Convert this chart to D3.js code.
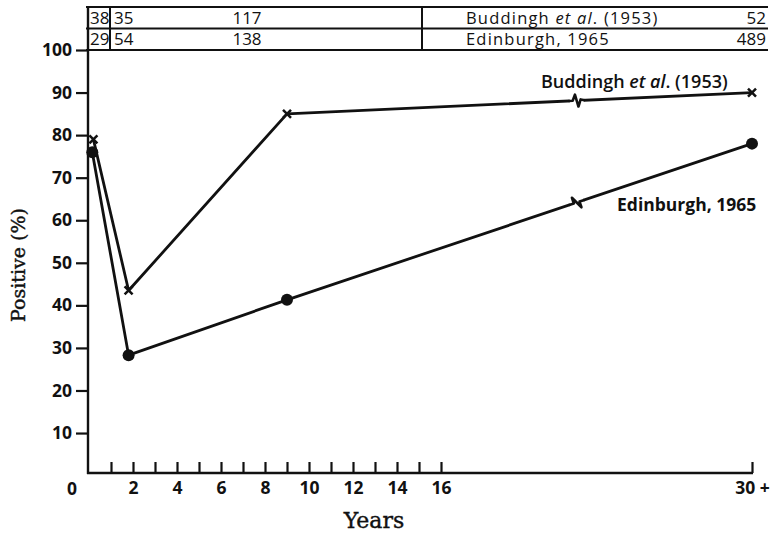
<!DOCTYPE html>
<html><head><meta charset="utf-8">
<script src="https://cdn.jsdelivr.net/npm/d3@7"></script>
<style>
html,body{margin:0;padding:0;background:#fff;}
svg{display:block;}
.sans{font-family:"Open Sans",Lato,sans-serif;}
.serif{font-family:"DejaVu Serif","Liberation Serif",serif;}
</style></head>
<body>
<svg id="c" width="770" height="534"></svg>
<script>
// ---- data ----
const seriesNames = ["Buddingh et al. (1953)", "Edinburgh, 1965"];
const buddinghYears = [0.2, 1.8, 9, 30];
const buddinghValues = [79, 43.5, 85, 90];
const edinburghYears = [0.15, 1.8, 9, 30];
const edinburghValues = [76, 28.3, 41.3, 78];
const yTicks = [10, 20, 30, 40, 50, 60, 70, 80, 90, 100];
const xTicks = [1,2,3,4,5,6,7,8,9,10,11,12,13,14,15,16,30];
const xLabels = {2:"2",4:"4",6:"6",8:"8",10:"10",12:"12",14:"14",16:"16",30:"30 +"};
// table: age-group counts per series
const tableBuddingh = [38, 35, 117, 52];
const tableEdinburgh = [29, 54, 138, 489];

const svg = d3.select("#c");
const x = d3.scaleLinear().domain([0, 16, 30]).range([89, 441, 752]);
const y = d3.scaleLinear().domain([0, 100]).range([475.6, 50]);
const axisY = 473;
const ink = "#111";

// Y axis
const yAxis = svg.append("g").attr("transform", "translate(88,0)")
  .call(d3.axisLeft(y).tickValues(yTicks).tickSize(12).tickPadding(4));
yAxis.select(".domain").remove();
yAxis.selectAll("line").attr("stroke", ink).attr("stroke-width", 2.2);
yAxis.selectAll("text").attr("class","sans").attr("font-size", 17.5).attr("font-weight", 700).attr("fill", ink);
svg.append("line").attr("x1",88).attr("x2",88).attr("y1",6).attr("y2",axisY+1)
  .attr("stroke",ink).attr("stroke-width",2.4);

// X axis
const xAxis = svg.append("g").attr("transform", `translate(0,${axisY})`)
  .call(d3.axisBottom(x).tickValues(xTicks).tickSizeInner(-11).tickSizeOuter(0).tickPadding(9)
    .tickFormat(d => xLabels[d] || ""));
xAxis.select(".domain").remove();
xAxis.selectAll("line").attr("stroke", ink).attr("stroke-width", 2.2);
xAxis.selectAll("text").attr("class","sans").attr("font-size", 17.5).attr("font-weight", 700).attr("fill", ink);
svg.append("line").attr("x1",87).attr("x2",x(30)+1).attr("y1",axisY).attr("y2",axisY)
  .attr("stroke",ink).attr("stroke-width",2.4);
svg.append("text").attr("class","sans").attr("x", x(0)-17).attr("y", axisY+22)
  .attr("font-size",17.5).attr("font-weight",700).attr("fill",ink).attr("text-anchor","middle").text("0");

// axis titles
svg.append("text").attr("class","serif").attr("transform","translate(25,265) rotate(-90)")
  .attr("text-anchor","middle").attr("font-size",19).attr("fill",ink)
  .attr("stroke",ink).attr("stroke-width",0.4).text("Positive (%)");
svg.append("text").attr("class","serif").attr("x",374).attr("y",528)
  .attr("text-anchor","middle").attr("font-size",22).attr("fill",ink)
  .attr("stroke",ink).attr("stroke-width",0.4).text("Years");

// table
const tTop = 7, tMid = 28.5, tBot = 50;
[tTop, tMid, tBot].forEach(yy => svg.append("line").attr("x1",86).attr("x2",768)
  .attr("y1",yy).attr("y2",yy).attr("stroke",ink).attr("stroke-width",2));
[x(1)-1, x(15)+3].forEach(xx => svg.append("line").attr("x1",xx).attr("x2",xx)
  .attr("y1",tTop).attr("y2",tBot).attr("stroke",ink).attr("stroke-width",2));
const rows = [
  {vals: tableBuddingh, name: "b", y: 24},
  {vals: tableEdinburgh, name: "e", y: 45}
];
rows.forEach(r => {
  const g = svg.append("g").attr("class","sans").attr("font-size",17).attr("fill",ink);
  g.append("text").attr("x", 90).attr("y", r.y).text(r.vals[0]);
  g.append("text").attr("x", x(1)+3).attr("y", r.y).text(r.vals[1]);
  g.append("text").attr("x", 247).attr("y", r.y).attr("text-anchor","middle").text(r.vals[2]);
  g.append("text").attr("x", 766).attr("y", r.y).attr("text-anchor","end").text(r.vals[3]);
  const t = g.append("text").attr("x", 466).attr("y", r.y).attr("font-size",16.5)
    .attr("letter-spacing", 1.2);
  if (r.name === "b") {
    t.append("tspan").text("Buddingh ");
    t.append("tspan").attr("font-style","italic").text("et al");
    t.append("tspan").text(". (1953)");
  } else {
    t.text(seriesNames[1]);
  }
});

// lines
const line = d3.line().x(d => x(d[0])).y(d => y(d[1]));
const bData = buddinghYears.map((d,i) => [d, buddinghValues[i]]);
const eData = edinburghYears.map((d,i) => [d, edinburghValues[i]]);
[bData, eData].forEach(data => {
  svg.append("path").attr("d", line(data)).attr("fill","none").attr("stroke",ink)
    .attr("stroke-width",2.8).attr("stroke-linejoin","round");
});

// break marks on last segments
function breakMark(data, frac, type) {
  const a = data[2], b = data[3];
  const px = x(a[0]) + frac * (x(b[0]) - x(a[0]));
  const py = y(a[1]) + frac * (y(b[1]) - y(a[1]));
  const ang = Math.atan2(y(b[1]) - y(a[1]), x(b[0]) - x(a[0])) * 180 / Math.PI;
  const g = svg.append("g").attr("transform", `translate(${px},${py}) rotate(${ang})`);
  g.append("line").attr("x1",-7).attr("x2",7).attr("y1",0).attr("y2",0).attr("stroke","#fff").attr("stroke-width",5);
  const p = type === "z" ? "M-8,0 L-4,0 L-1.5,-6 L1.5,6 L4,-1 L8,0" : "M-8,0 L-3,0 L-3,-6 L3,6 L3,0 L8,0";
  g.append("path").attr("d", p).attr("fill","none").attr("stroke",ink).attr("stroke-width",2.6).attr("stroke-linejoin","round");
}
breakMark(bData, 0.623, "z");
breakMark(eData, 0.623, "n");

// markers
svg.selectAll(".xm").data(bData).enter().append("path")
  .attr("transform", d => `translate(${x(d[0])},${y(d[1])})`)
  .attr("d", "M-4,-4 L4,4 M-4,4 L4,-4")
  .attr("stroke", ink).attr("stroke-width", 2.5).attr("fill","none");
svg.selectAll(".dm").data(eData).enter().append("circle")
  .attr("cx", d => x(d[0])).attr("cy", d => y(d[1])).attr("r", 6).attr("fill", ink);

// series labels
const lb = svg.append("text").attr("class","sans").attr("x", 541).attr("y", 88)
  .attr("font-size",18).attr("font-weight",600).attr("fill",ink);
lb.append("tspan").text("Buddingh ");
lb.append("tspan").attr("font-style","italic").text("et al");
lb.append("tspan").text(". (1953)");
svg.append("text").attr("class","sans").attr("x", 617).attr("y", 211)
  .attr("font-size",17.5).attr("font-weight",700).attr("fill",ink).text(seriesNames[1]);
</script>
</body></html>
